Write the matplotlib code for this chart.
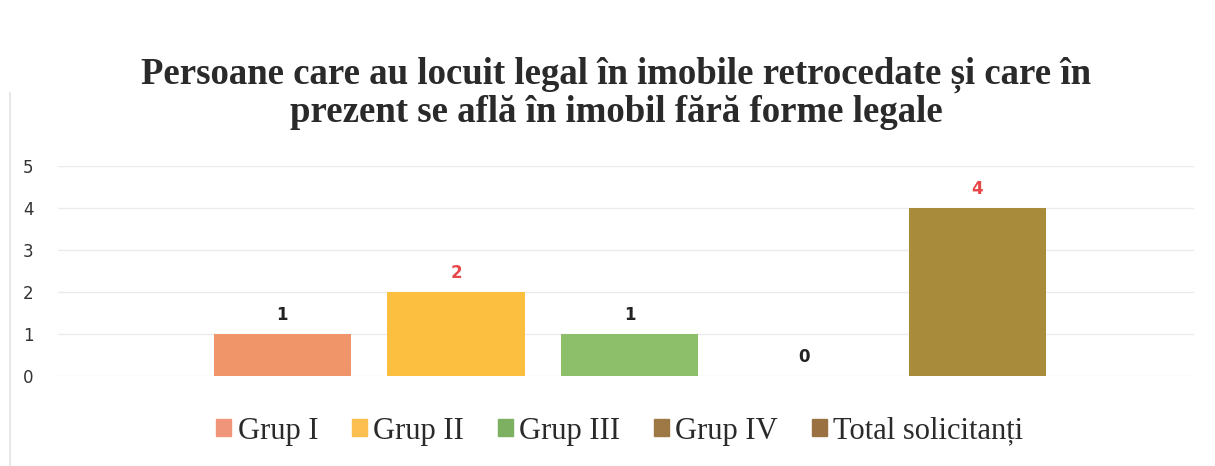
import matplotlib.pyplot as plt
import matplotlib.patches as mpatches

# date grafic
categorii = ["Grup I", "Grup II", "Grup III", "Grup IV", "Total solicitanți"]
valori = [1, 2, 1, 0, 4]
culori_bare = ["#F0956A", "#FDBF3F", "#8DBF6A", "#9E7845", "#A88B3B"]
culori_legenda = ["#F0957A", "#FDBF4F", "#7DB060", "#9E7845", "#9A7040"]
culori_etichete = ["#222222", "#E8474A", "#222222", "#222222", "#E8474A"]
titlu = ("Persoane care au locuit legal în imobile retrocedate și care în\n"
         "prezent se află în imobil fără forme legale")

fig = plt.figure(figsize=(12.15, 4.66), dpi=100)
ax = fig.add_axes([0.048, 0.193, 0.935, 0.451])

x = range(len(valori))
ax.bar(x, valori, width=0.79, color=culori_bare, zorder=2)
for xi, v, c in zip(x, valori, culori_etichete):
    ax.text(xi, v + 0.45, str(v), ha="center", va="center",
            fontsize=12, fontweight="bold", color=c)

ax.set_ylim(0, 5)
ax.set_xlim(-1.29, 5.25)
ax.set_yticks(range(6))
ax.set_xticks([])
ax.tick_params(axis="y", length=0, labelsize=12, labelcolor="#333333", pad=18)
ax.grid(axis="y", color="#EBEBEB", linewidth=1, zorder=0)
for s in ax.spines.values():
    s.set_visible(False)

fig.text(0.507, 0.80, titlu, ha="center", va="center", fontsize=26.5,
         fontweight="bold", family="Liberation Serif", color="#2a2a2a",
         linespacing=1.1)

handles = [mpatches.Patch(color=c, label=l) for c, l in zip(culori_legenda, categorii)]
fig.legend(handles=handles, loc="center", bbox_to_anchor=(0.51, 0.075), ncol=5,
           frameon=False, prop={"family": "Liberation Serif", "size": 22},
           handlelength=0.5, handleheight=0.5, handletextpad=0.2, columnspacing=1.1,
           labelcolor="#2a2a2a")

# margine stanga a paginii scanate
fig.add_artist(plt.Line2D([0.008, 0.008], [0.0, 0.8], color="#E8E8E8", linewidth=1.5))

fig.savefig("out.png", dpi=100)
